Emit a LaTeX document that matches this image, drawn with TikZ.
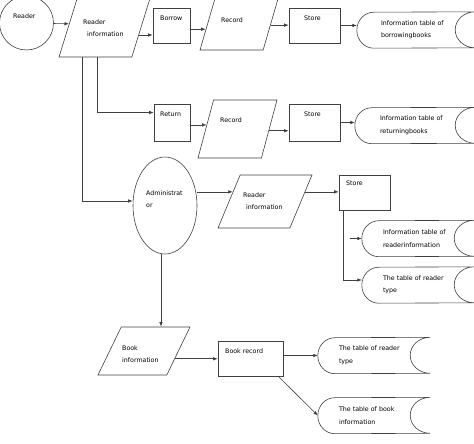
\documentclass[tikz,border=0pt]{standalone}
\usepackage{fontspec}
\setmainfont{DejaVu Sans}
\usepackage{tikz}
\usetikzlibrary{shapes.geometric,arrows.meta,calc}

% outline of a stored-data node (convex left, concave right)
\newcommand{\diskline}[1]{%
  \draw[line width=0.6pt, draw=black!75] (#1.north east)
    arc[start angle=90, end angle=270, x radius=20pt, y radius=18pt]
    -- ([xshift=17pt]#1.south west)
    arc[start angle=270, end angle=90, x radius=17pt, y radius=18pt]
    -- cycle;}

\begin{document}
\begin{tikzpicture}[x=1pt, y=-1pt]
		\tikzstyle{Line} = [line width=0.6pt, draw=black!75]
		\tikzstyle{Proc} = [rectangle, Line, inner sep=0pt]
		\tikzstyle{IO}   = [trapezium, trapezium stretches=true, Line, inner sep=2pt]
		\tikzstyle{Disk} = [rectangle, inner sep=0pt, minimum height=36pt, text width=70pt, align=left, font=\fontsize{6.3}{12.5}\selectfont]
		\tikzstyle{Txt}  = [inner sep=0pt, anchor=north west, align=left, font=\fontsize{6.3}{12.5}\selectfont]
		\tikzstyle{Flow} = [Line, -{Latex[length=4.5pt,width=3.5pt]}]

		\path[use as bounding box, clip] (0,0) rectangle (474,444);

		% borrowing
		\node (reader) at (26.5,23) [circle, Line, minimum size=54pt, inner sep=0pt] {};
		\node (rinfo) at (105.5,24.5) [IO, trapezium left angle=69, trapezium right angle=111, minimum width=93pt, minimum height=65pt] {};
		\node (borrow) at (171.5,25.5) [Proc, minimum width=37pt, minimum height=35pt] {};
		\node (rec1) at (240,21) [IO, trapezium left angle=70, trapezium right angle=110, minimum width=80pt, minimum height=58pt] {};
		\node (store1) at (314.5,25.5) [Proc, minimum width=51pt, minimum height=35pt] {};
		\node (s1) at (416,30) [Disk, minimum width=118pt] {\makebox[69pt][s]{Information table of}\\borrowingbooks};

		% returning
		\node (return) at (172,122.5) [Proc, minimum width=36pt, minimum height=37pt] {};
		\node (rec2) at (237.5,129) [IO, trapezium left angle=72, trapezium right angle=108, minimum width=79pt, minimum height=58pt] {};
		\node (store2) at (314.5,122.5) [Proc, minimum width=51pt, minimum height=37pt] {};
		\node (s2) at (415,125.5) [Disk, minimum width=120pt] {\makebox[69pt][s]{Information table of}\\returningbooks};

		% administrator
		\node (admin) at (165,205.5) [ellipse, Line, minimum width=64pt, minimum height=97pt, inner sep=0pt] {};
		\node (rinfo2) at (265,201.5) [IO, trapezium left angle=66, trapezium right angle=114, minimum width=94pt, minimum height=53pt] {};
		\node (store3) at (364.5,192.5) [Proc, minimum width=51pt, minimum height=35pt] {};
		\node (s3) at (418,238.5) [Disk, minimum width=112pt] {\makebox[67pt][s]{Information table of}\\readerinformation};
		\node (s4) at (418,285) [Disk, minimum width=112pt] {\makebox[65pt][s]{The table of reader}\\type};

		% books
		\node (binfo) at (144,351) [IO, trapezium left angle=63, trapezium right angle=117, minimum width=92pt, minimum height=48pt] {};
		\node (brec) at (250.5,358.5) [Proc, minimum width=65pt, minimum height=35pt] {};
		\node (s5) at (374,355.5) [Disk, minimum width=112pt] {\makebox[67pt][s]{The table of reader}\\type};
		\node (s6) at (374,415.5) [Disk, minimum width=112pt] {\makebox[67pt][s]{The table of book}\\information};

		\foreach \s in {s1,s2,s3,s4,s5,s6} {\diskline{\s}}

		% labels
		\node (reader-t) at (13,13.5) [Txt] {Reader};
		\node (rinfo-t) at (83,19.5) [Txt] {Reader\\\hspace*{4pt}information};
		\node (borrow-t) at (160,15.5) [Txt] {Borrow};
		\node (rec1-t) at (221,17.5) [Txt] {Record};
		\node (store1-t) at (304,15.5) [Txt] {Store};
		\node (return-t) at (160,111.5) [Txt] {Return};
		\node (rec2-t) at (220,117.5) [Txt] {Record};
		\node (store2-t) at (304,111.5) [Txt] {Store};
		\node (admin-t) at (146,190.5) [Txt] {Administrat\\or};
		\node (rinfo2-t) at (243,192.5) [Txt] {Reader\\\hspace*{3pt}information};
		\node (store3-t) at (346,180.5) [Txt] {Store};
		\node (binfo-t) at (122,345.5) [Txt] {Book\\information};
		\node (brec-t) at (225,348.5) [Txt] {Book record};

		% flows
		\draw [Flow] (reader) -- (rinfo);
		\coordinate (p1) at ($(rinfo.bottom right corner)!0.34!(rinfo.top right corner)$);
		\draw [Flow] (p1) -- (p1 -| borrow.west);
		\coordinate (p2) at ($(rec1.bottom left corner)!0.36!(rec1.top left corner)$);
		\draw [Flow] (p2 -| borrow.east) -- (p2);
		\coordinate (p3) at ($(rec1.bottom right corner)!0.43!(rec1.top right corner)$);
		\draw [Flow] (p3) -- (p3 -| store1.west);
		\draw [Flow] (store1.east) -- (store1.east -| s1.west);

		\draw [Flow] ([xshift=39pt]rinfo.bottom left corner) |- ([yshift=10pt]return.west);
		\coordinate (p4) at ($(rec2.bottom left corner)!0.57!(rec2.top left corner)$);
		\draw [Flow] (p4 -| return.east) -- (p4);
		\coordinate (p5) at ($(rec2.bottom right corner)!0.47!(rec2.top right corner)$);
		\draw [Flow] (p5) -- (p5 -| store2.west);
		\draw [Flow] (store2.east) -- (store2.east -| s2.west);

		\draw [Flow] ([xshift=24pt]rinfo.bottom left corner) |- ([yshift=4.5pt]admin.west);
		\coordinate (p6) at ($(rinfo2.bottom left corner)!0.68!(rinfo2.top left corner)$);
		\draw [Flow] (p6 -| admin.east) -- (p6);
		\coordinate (p7) at ($(rinfo2.bottom right corner)!0.68!(rinfo2.top right corner)$);
		\draw [Flow] (p7) -- (p7 -| store3.west);
		\draw [Flow] ([xshift=5pt]store3.south west) |- ([yshift=5pt]s4.west);
		\coordinate (p8) at ($(store3.south west |- s3.west)+(11,0)$);
		\draw [Flow] (p8) -- (s3.west);

		\coordinate (p9) at ([xshift=-4pt]admin.south);
		\draw [Flow] (p9) -- (p9 |- binfo.north);
		\coordinate (p10) at ($(binfo.bottom right corner)!0.34!(binfo.top right corner)$);
		\draw [Flow] (p10) -- (p10 -| brec.west);
		\draw [Flow] (brec.east |- s5.west) -- (s5.west);
		\draw [Flow] ([xshift=-5pt]brec.south east) -- (s6.west);
	\end{tikzpicture}
\end{document}
